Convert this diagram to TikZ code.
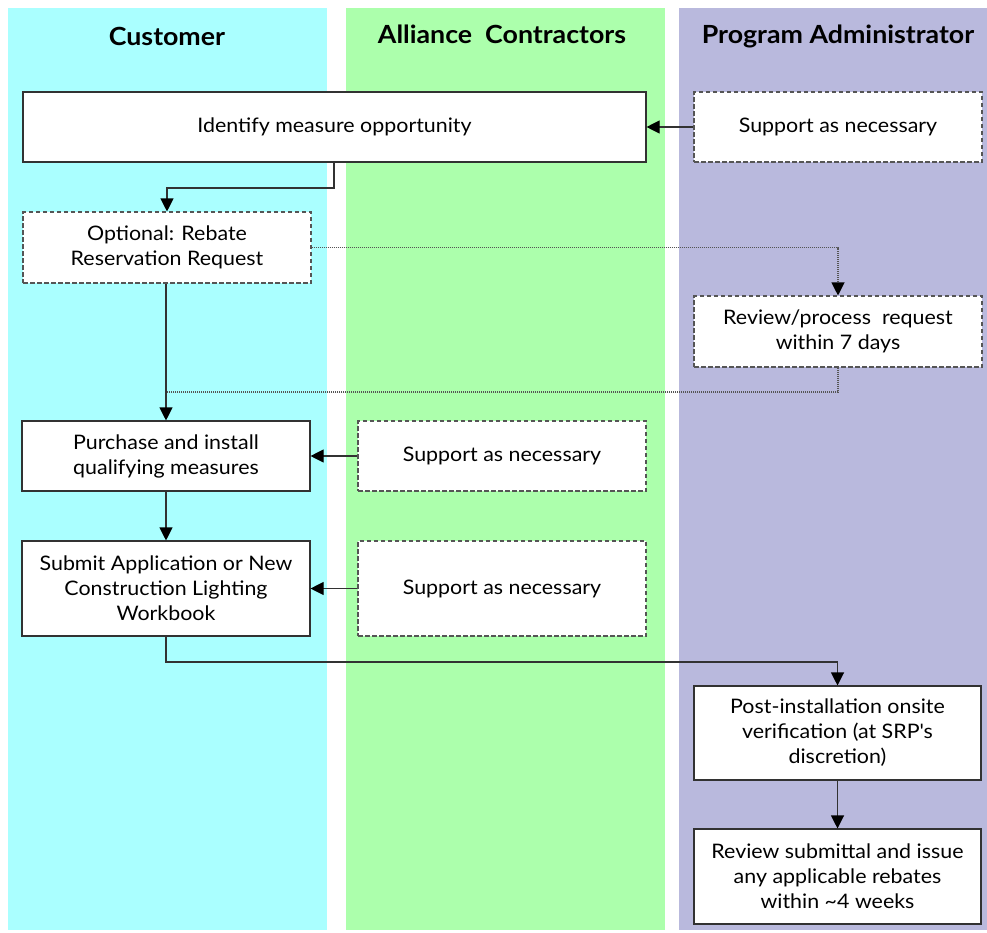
\documentclass[tikz,border=0pt]{standalone}
\usepackage{fontspec}
\setmainfont{Lato}[FakeStretch=1.07]
\usetikzlibrary{arrows.meta}
\definecolor{lanecyan}{RGB}{170,255,255}
\definecolor{lanegreen}{RGB}{172,255,172}
\definecolor{lanepurple}{RGB}{185,185,221}
\definecolor{edgegray}{RGB}{50,50,50}
\definecolor{dashgray}{RGB}{85,85,85}
\begin{document}
\begin{tikzpicture}[x=1pt,y=-1pt,
  lane/.style={fill=#1,draw=none},
  head/.style={font=\fontsize{25}{30}\selectfont\bfseries},
  solidbox/.style={draw=edgegray,line width=1.1pt,fill=white,inner sep=0pt,align=center,
    font=\fontsize{20}{25}\selectfont},
  dashbox/.style={solidbox,draw=dashgray,dash pattern=on 4.5pt off 2.5pt},
  conn/.style={draw=edgegray,line width=1.1pt,-{Triangle[width=13pt,length=13pt,fill=black,color=black]}},
  dotconn/.style={conn,draw=dashgray,dash pattern=on 1pt off 1pt},
  plainline/.style={draw=dashgray,line width=1.1pt,dash pattern=on 1pt off 1pt}
]
\useasboundingbox (0,0) rectangle (987,932);
\fill[white] (0,0) rectangle (987,932);
\fill[lane=lanecyan] (8,8) rectangle (327,930);
\fill[lane=lanegreen] (346,8) rectangle (665,930);
\fill[lane=lanepurple] (679,8) rectangle (987,930);

\node[head] (h1) at (167,36) {Customer};
\node[head] (h2) at (502,34) {Alliance~ Contractors};
\node[head] (h3) at (838,36) {Program Administrator};

\node[solidbox,minimum width=623pt,minimum height=70pt] (identify) at (334.5,127) {Identify measure opportunity};
\node[dashbox,minimum width=288pt,minimum height=70pt] (suppa) at (838,127) {Support as necessary};
\node[dashbox,minimum width=288pt,minimum height=71pt] (optional) at (167,247.5) {Optional: Rebate\\Reservation Request};
\node[dashbox,minimum width=288pt,minimum height=71pt] (review) at (838,331.5) {Review/process~ request\\within 7 days};
\node[solidbox,minimum width=288pt,minimum height=70pt] (purchase) at (166,456) {Purchase and install\\qualifying measures};
\node[dashbox,minimum width=288pt,minimum height=70pt] (supac1) at (502,456) {Support as necessary};
\node[solidbox,minimum width=288pt,minimum height=95pt] (submit) at (166,588.5) {Submit Application or New\\Construction Lighting\\Workbook};
\node[dashbox,minimum width=288pt,minimum height=95pt] (supac2) at (502,588.5) {Support as necessary};
\node[solidbox,minimum width=287pt,minimum height=94pt] (post) at (837.5,733) {Post-installation onsite\\verification (at SRP\textquotesingle s\\discretion)};
\node[solidbox,minimum width=287pt,minimum height=95pt] (final) at (837.5,876.5) {Review submittal and issue\\any applicable rebates\\within \textasciitilde4 weeks};

\coordinate (c1) at (334,188);
\coordinate (j) at (166,392);
\coordinate (c2) at (837.5,662);

\draw[conn] (suppa.west) -- (identify.east);
\draw[conn] (identify.south -| c1) -- (c1) -| (optional.south |- optional.north);
\draw[dotconn] (optional.east) -| (review.north);
\draw[plainline] (review.south) |- (j);
\draw[conn] (optional.south -| purchase.north) -- (purchase.north);
\draw[conn] (supac1.west) -- (purchase.east);
\draw[conn] (purchase.south) -- (submit.north);
\draw[conn] (supac2.west) -- (submit.east);
\draw[conn] (submit.south) |- (c2) -- (post.north);
\draw[conn] (post.south) -- (final.north);
\end{tikzpicture}
\end{document}
